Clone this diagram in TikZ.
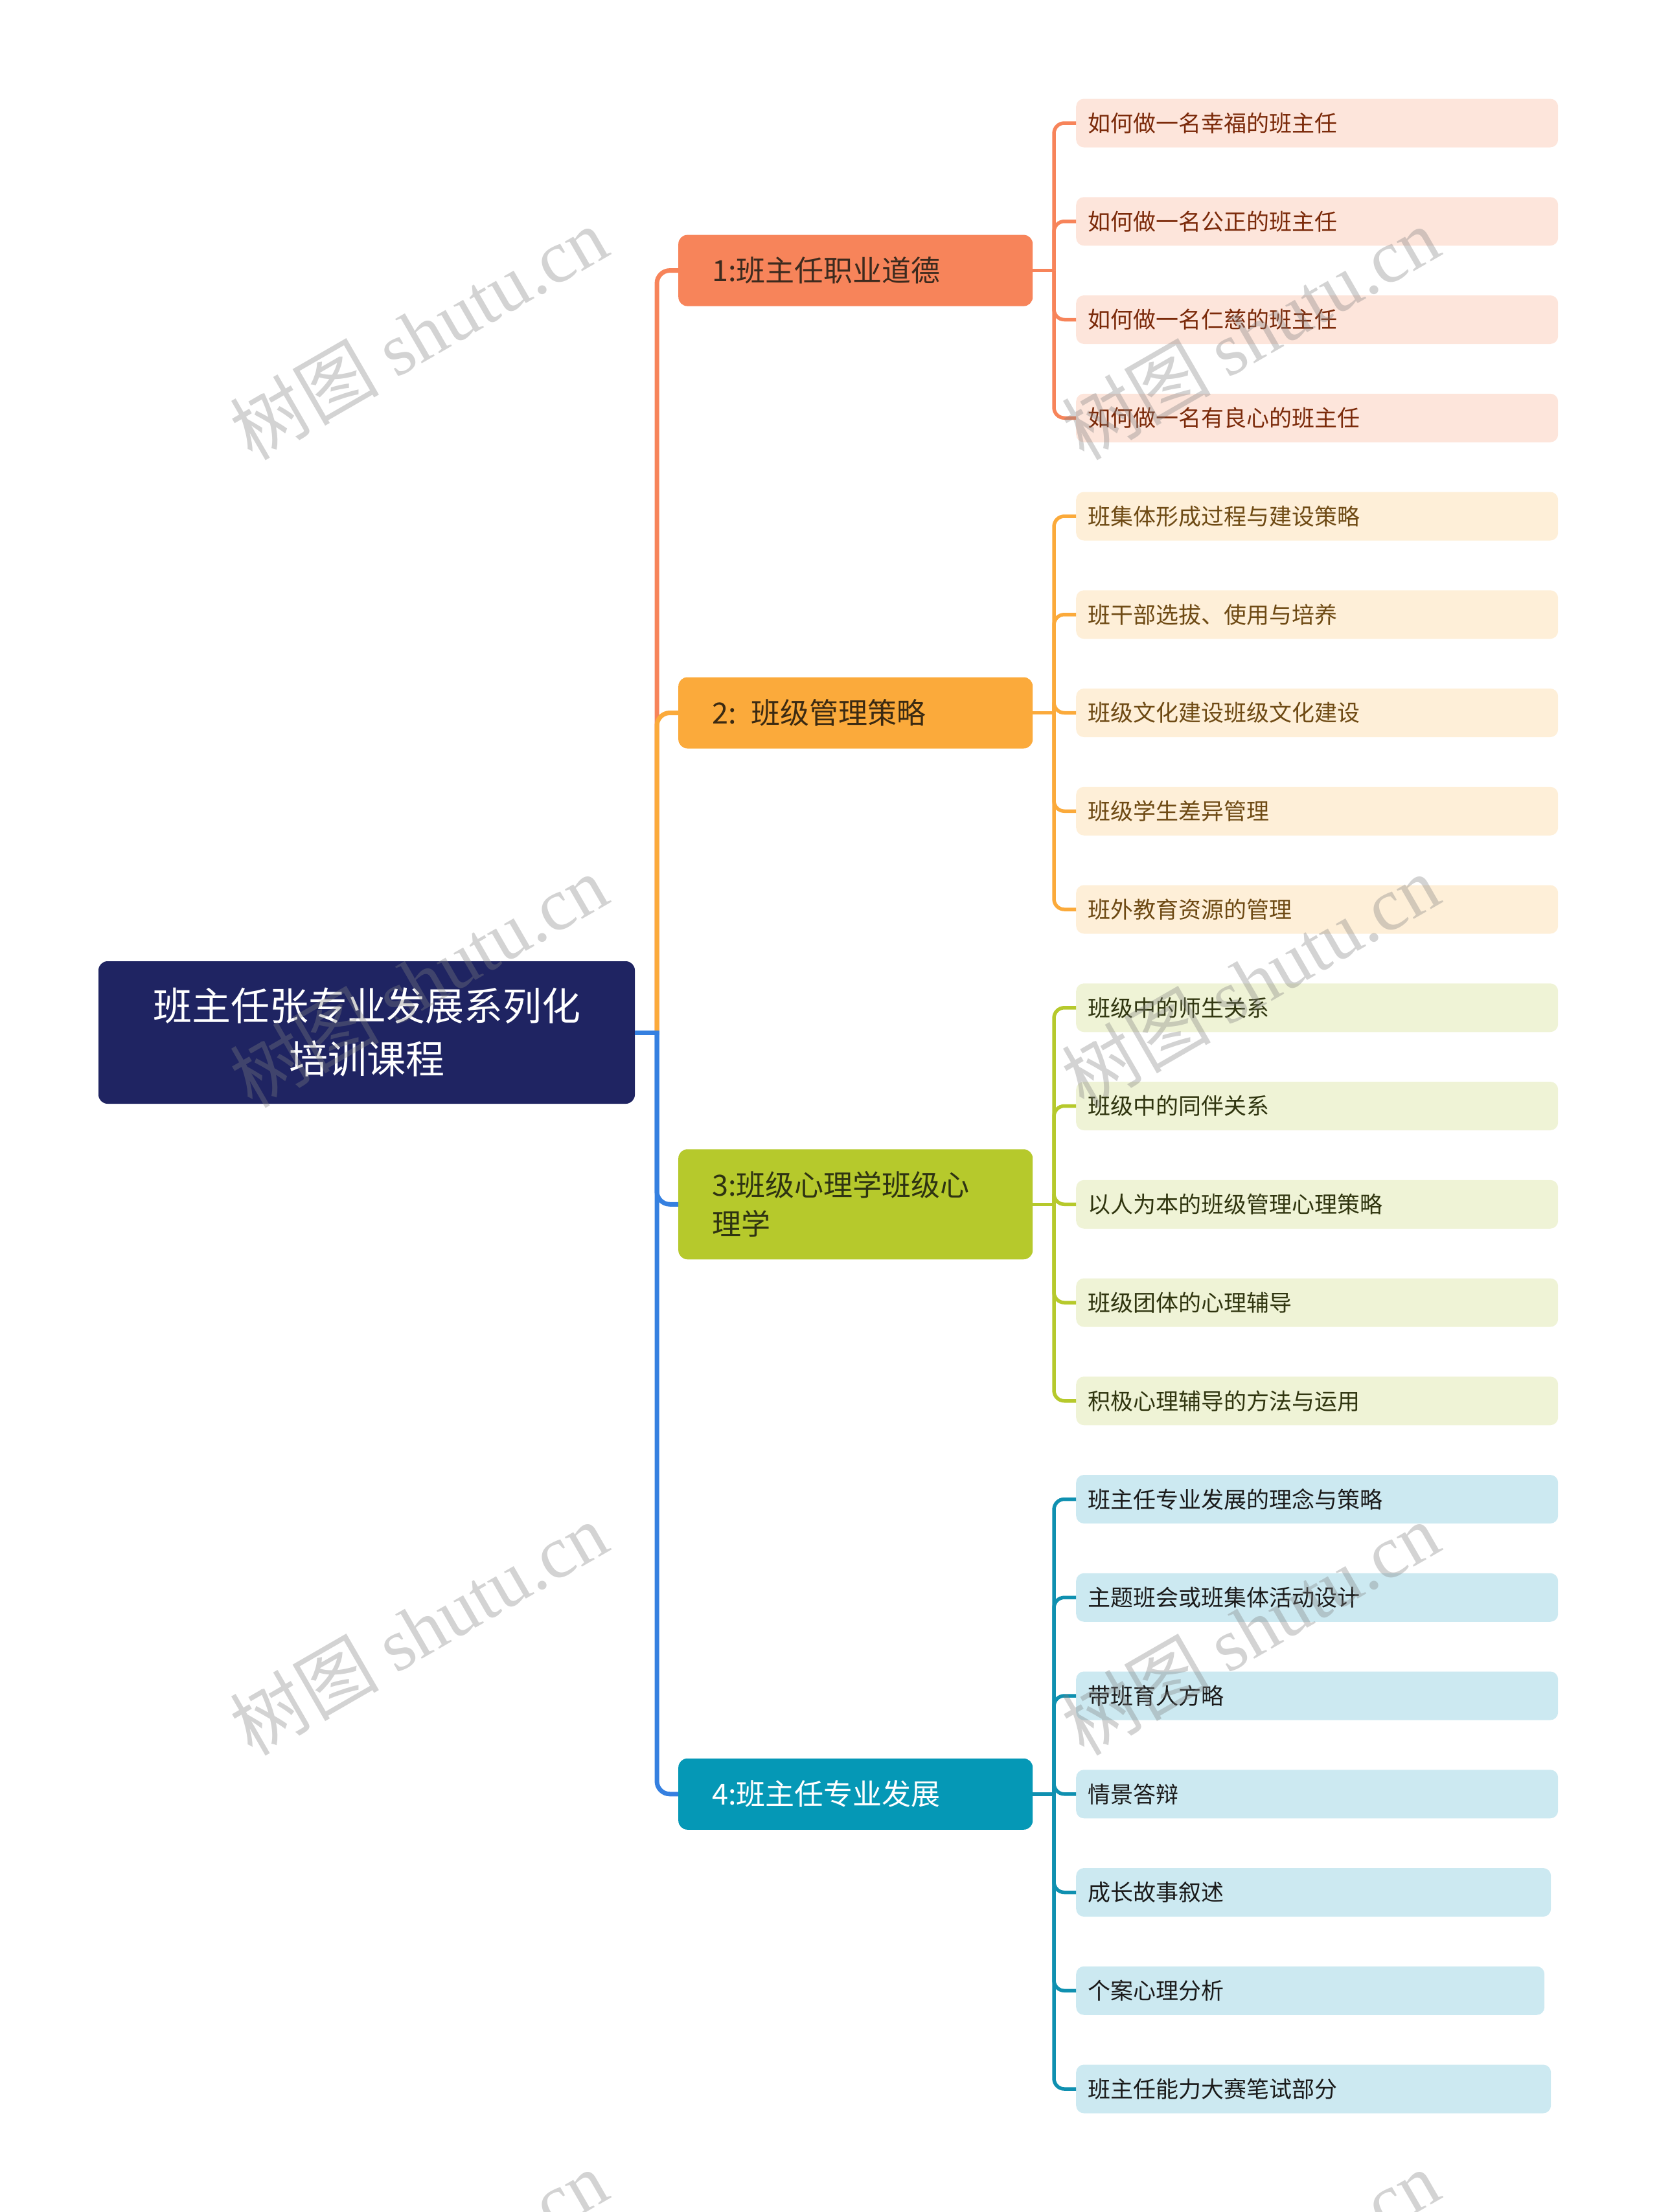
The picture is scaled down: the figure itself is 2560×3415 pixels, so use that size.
\documentclass[tikz,border=0pt]{standalone}
\usepackage{fontspec}
\setmainfont{Noto Sans CJK SC}
\newfontfamily\cjk{Noto Sans CJK SC}
\newfontfamily\wmserif{Liberation Serif}
\definecolor{rootc}{HTML}{1F2462}
\definecolor{bAfill}{HTML}{F7845A}
\definecolor{bBfill}{HTML}{FBAA3B}
\definecolor{bCfill}{HTML}{B6C92C}
\definecolor{bDfill}{HTML}{0598B6}
\definecolor{bAtext}{HTML}{3C2A1E}
\definecolor{bBtext}{HTML}{3B2A12}
\definecolor{bCtext}{HTML}{2E3312}
\definecolor{lAfill}{HTML}{FDE5DB}
\definecolor{lBfill}{HTML}{FEEFD8}
\definecolor{lCfill}{HTML}{EFF3D6}
\definecolor{lDfill}{HTML}{CCE9F1}
\definecolor{lAtext}{HTML}{7B2A0A}
\definecolor{lBtext}{HTML}{6E4A14}
\definecolor{lCtext}{HTML}{30350F}
\definecolor{lDtext}{HTML}{1B1B1B}
\definecolor{trunkblue}{HTML}{3580E0}
\definecolor{lDline}{HTML}{0F90B0}
\begin{document}
\begin{tikzpicture}[x=1pt,y=-1pt,
  rootbox/.style={fill=rootc, rounded corners=14, text=white, minimum width=828, minimum height=220, align=center, inner sep=0, font=\fontsize{60}{82}\selectfont},
  brbox/.style={rounded corners=14, minimum height=110, text width=443, inner xsep=52, inner ysep=0, align=left, anchor=west, font=\fontsize{45}{60}\selectfont},
  leaf/.style={rounded corners=12, minimum height=75, text width=708, inner xsep=18, inner ysep=0, align=left, anchor=west, font=\fontsize{35}{40}\selectfont},
  mainline/.style={line width=7, rounded corners=20},
  subline/.style={line width=5.5, rounded corners=16},
  wm/.style={rotate=30, text=gray, text opacity=0.35, inner sep=0, font=\fontsize{115}{120}\selectfont}
]
\useasboundingbox (0,0) rectangle (2560,3415);

% root and branches
\node[rootbox] (root) at (566,1594) {班主任张专业发展系列化\\培训课程};
\node[brbox, fill=bAfill, text=bAtext] (b1) at (1047,417.6) {1:班主任职业道德};
\node[brbox, fill=bBfill, text=bBtext] (b2) at (1047,1100.5) {2: 班级管理策略};
\node[brbox, fill=bCfill, text=bCtext, minimum height=170] (b3) at (1047,1859.25) {3:班级心理学班级心\\理学};
\node[brbox, fill=bDfill, text=white] (b4) at (1047,2769.75) {4:班主任专业发展};

% leaves
\node[leaf, fill=lAfill, text=lAtext] (l0) at (1661,190) {如何做一名幸福的班主任};
\node[leaf, fill=lAfill, text=lAtext] (l1) at (1661,341.75) {如何做一名公正的班主任};
\node[leaf, fill=lAfill, text=lAtext] (l2) at (1661,493.5) {如何做一名仁慈的班主任};
\node[leaf, fill=lAfill, text=lAtext] (l3) at (1661,645.25) {如何做一名有良心的班主任};
\node[leaf, fill=lBfill, text=lBtext] (l4) at (1661,797) {班集体形成过程与建设策略};
\node[leaf, fill=lBfill, text=lBtext] (l5) at (1661,948.75) {班干部选拔、使用与培养};
\node[leaf, fill=lBfill, text=lBtext] (l6) at (1661,1100.5) {班级文化建设班级文化建设};
\node[leaf, fill=lBfill, text=lBtext] (l7) at (1661,1252.25) {班级学生差异管理};
\node[leaf, fill=lBfill, text=lBtext] (l8) at (1661,1404) {班外教育资源的管理};
\node[leaf, fill=lCfill, text=lCtext] (l9) at (1661,1555.75) {班级中的师生关系};
\node[leaf, fill=lCfill, text=lCtext] (l10) at (1661,1707.5) {班级中的同伴关系};
\node[leaf, fill=lCfill, text=lCtext] (l11) at (1661,1859.25) {以人为本的班级管理心理策略};
\node[leaf, fill=lCfill, text=lCtext] (l12) at (1661,2011) {班级团体的心理辅导};
\node[leaf, fill=lCfill, text=lCtext] (l13) at (1661,2162.75) {积极心理辅导的方法与运用};
\node[leaf, fill=lDfill, text=lDtext] (l14) at (1661,2314.5) {班主任专业发展的理念与策略};
\node[leaf, fill=lDfill, text=lDtext] (l15) at (1661,2466.25) {主题班会或班集体活动设计};
\node[leaf, fill=lDfill, text=lDtext] (l16) at (1661,2618) {带班育人方略};
\node[leaf, fill=lDfill, text=lDtext] (l17) at (1661,2769.75) {情景答辩};
\node[leaf, fill=lDfill, text=lDtext, text width=697] (l18) at (1661,2921.5) {成长故事叙述};
\node[leaf, fill=lDfill, text=lDtext, text width=687] (l19) at (1661,3073.25) {个案心理分析};
\node[leaf, fill=lDfill, text=lDtext, text width=697] (l20) at (1661,3225) {班主任能力大赛笔试部分};

% junction coordinates
\coordinate (tk) at (1014,1594);
\coordinate (tkr) at (1017.5,1594);
\coordinate (j1) at (1627,417.6);
\coordinate (j2) at (1627,1100.5);
\coordinate (j3) at (1627,1859.25);
\coordinate (j4) at (1627,2769.75);

% main connectors
\draw[mainline, draw=bAfill] (tk) |- (b1.west);
\draw[mainline, draw=bBfill] (tk) |- (b2.west);
\draw[mainline, draw=trunkblue] (tk) |- (b4.west);
\draw[mainline, draw=trunkblue] (tk) |- (b3.west);
\draw[line width=7, draw=trunkblue] (root.east) -- (tkr);

% sub connectors
\draw[subline, draw=bAfill] (b1.east) -- (j1);
\foreach \n in {l0,l1,l2,l3} \draw[subline, draw=bAfill] (j1) |- (\n.west);
\draw[subline, draw=bBfill] (b2.east) -- (j2);
\foreach \n in {l4,l5,l6,l7,l8} \draw[subline, draw=bBfill] (j2) |- (\n.west);
\draw[subline, draw=bCfill] (b3.east) -- (j3);
\foreach \n in {l9,l10,l11,l12,l13} \draw[subline, draw=bCfill] (j3) |- (\n.west);
\draw[subline, draw=lDline] (b4.east) -- (j4);
\foreach \n in {l14,l15,l16,l17,l18,l19,l20} \draw[subline, draw=lDline] (j4) |- (\n.west);

% watermarks
\begin{scope}
\clip (0,0) rectangle (2560,3415);
\foreach \yy in {514,1514,2514,3514} {
  \node[wm] (wmL\yy) at (646,\yy) {{\cjk 树图} {\wmserif shutu.cn}};
  \node[wm] (wmR\yy) at (1930,\yy) {{\cjk 树图} {\wmserif shutu.cn}};
}
\end{scope}
\end{tikzpicture}
\end{document}
